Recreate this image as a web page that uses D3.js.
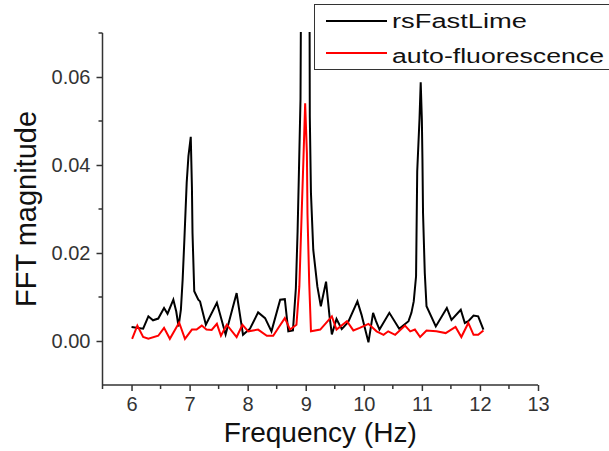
<!DOCTYPE html>
<html>
<head>
<meta charset="utf-8">
<script src="https://cdn.jsdelivr.net/npm/d3@7"></script>
<style>
  body { margin: 0; background: #fff; }
  text { font-family: Arial, "Liberation Sans", sans-serif; }
</style>
</head>
<body>
<div id="fft-chart"></div>
<script>
// DATA
const blackFreq = [6.00, 6.20, 6.29, 6.37, 6.46, 6.56, 6.62, 6.72, 6.77, 6.81, 6.85, 6.88, 6.91, 6.95, 6.98, 7.02, 7.04, 7.05, 7.08, 7.15, 7.18, 7.28, 7.47, 7.62, 7.81, 7.92, 8.04, 8.18, 8.30, 8.41, 8.56, 8.64, 8.70, 8.78, 8.83, 8.86, 8.88, 8.91, 8.93, 8.99, 9.06, 9.07, 9.09, 9.13, 9.20, 9.26, 9.35, 9.41, 9.45, 9.53, 9.62, 9.73, 9.89, 9.96, 10.08, 10.16, 10.21, 10.27, 10.44, 10.61, 10.77, 10.82, 10.86, 10.90, 10.91, 10.92, 10.96, 10.98, 11.00, 11.01, 11.02, 11.05, 11.08, 11.24, 11.43, 11.51, 11.67, 11.74, 11.80, 11.89, 11.97, 12.06];
const blackMag = [0.0032, 0.0028, 0.0056, 0.0047, 0.0051, 0.0075, 0.0062, 0.0094, 0.0067, 0.0033, 0.0071, 0.0139, 0.0230, 0.0360, 0.0420, 0.0464, 0.0350, 0.0246, 0.0113, 0.0094, 0.0090, 0.0037, 0.0087, 0.0015, 0.0109, 0.0014, 0.0028, 0.0065, 0.0052, 0.0022, 0.0094, 0.0095, 0.0022, 0.0024, 0.0120, 0.0250, 0.0367, 0.0550, 0.1100, 0.1500, 0.1100, 0.0510, 0.0336, 0.0207, 0.0124, 0.0079, 0.0135, 0.0056, 0.0015, 0.0050, 0.0027, 0.0043, 0.0090, 0.0060, -0.0003, 0.0064, 0.0045, 0.0026, 0.0064, 0.0028, 0.0045, 0.0064, 0.0090, 0.0147, 0.0268, 0.0386, 0.0507, 0.0588, 0.0503, 0.0412, 0.0291, 0.0155, 0.0079, 0.0033, 0.0075, 0.0048, 0.0071, 0.0041, 0.0045, 0.0058, 0.0056, 0.0026];

const redFreq = [6.01, 6.10, 6.20, 6.29, 6.46, 6.56, 6.66, 6.82, 6.92, 7.04, 7.12, 7.21, 7.29, 7.38, 7.47, 7.54, 7.64, 7.81, 7.91, 8.01, 8.18, 8.33, 8.44, 8.53, 8.64, 8.73, 8.84, 8.89, 8.93, 8.96, 8.99, 9.02, 9.03, 9.06, 9.09, 9.25, 9.45, 9.53, 9.71, 9.82, 9.93, 10.08, 10.22, 10.34, 10.42, 10.54, 10.71, 10.80, 10.88, 10.97, 11.08, 11.25, 11.41, 11.58, 11.68, 11.80, 11.89, 11.97, 12.06];
const redMag = [0.0005, 0.0035, 0.0009, 0.0005, 0.0012, 0.0030, 0.0005, 0.0042, 0.0005, 0.0026, 0.0026, 0.0035, 0.0026, 0.0025, 0.0039, 0.0012, 0.0037, 0.0009, 0.0037, 0.0022, 0.0026, 0.0012, 0.0012, 0.0030, 0.0052, 0.0026, 0.0037, 0.0124, 0.0290, 0.0412, 0.0540, 0.0427, 0.0290, 0.0132, 0.0022, 0.0026, 0.0056, 0.0026, 0.0045, 0.0024, 0.0030, 0.0039, 0.0022, 0.0014, 0.0022, 0.0014, 0.0035, 0.0022, 0.0026, 0.0009, 0.0024, 0.0022, 0.0018, 0.0032, 0.0009, 0.0041, 0.0014, 0.0014, 0.0024];

const seriesNames = ["rsFastLime", "auto-fluorescence"];
const seriesColors = ["#000000", "#ff0000"];

const xMajorTicks = [6, 7, 8, 9, 10, 11, 12, 13];
const xMinorTicks = [5.5, 6.5, 7.5, 8.5, 9.5, 10.5, 11.5, 12.5];
const yMajorTicks = [0.0, 0.02, 0.04, 0.06];
const yMinorTicks = [0.01, 0.03, 0.05, 0.07];

const WIDTH = 609;
const HEIGHT = 451;
const MARGIN = { TOP: 33, RIGHT: 71, BOTTOM: 66, LEFT: 102.5 };
const INNER_W = WIDTH - MARGIN.LEFT - MARGIN.RIGHT;
const INNER_H = HEIGHT - MARGIN.TOP - MARGIN.BOTTOM;

const svg = d3
  .select("#fft-chart")
  .append("svg")
  .attr("width", WIDTH)
  .attr("height", HEIGHT);

const g = svg
  .append("g")
  .attr("transform", `translate(${MARGIN.LEFT}, ${MARGIN.TOP})`);

const x = d3.scaleLinear().domain([5.5, 13]).range([0, INNER_W]);
const y = d3.scaleLinear().domain([-0.01, 0.07]).range([INNER_H, 0]);

// CLIP (the 9 Hz peak runs off the top)
svg
  .append("defs")
  .append("clipPath")
  .attr("id", "plot-clip")
  .append("rect")
  .attr("x", 0)
  .attr("y", -1)
  .attr("width", INNER_W)
  .attr("height", INNER_H + 1);

// LINES
const line = d3
  .line()
  .x((d) => x(d[0]))
  .y((d) => y(d[1]));

const series = [
  d3.zip(blackFreq, blackMag),
  d3.zip(redFreq, redMag),
];

g.append("g")
  .attr("clip-path", "url(#plot-clip)")
  .selectAll("path")
  .data(series)
  .enter()
  .append("path")
  .attr("d", line)
  .style("fill", "none")
  .style("stroke", (d, i) => seriesColors[i])
  .style("stroke-width", "2px")
  .style("stroke-linejoin", "miter");

// AXES
const tickColor = "#333";

const xAxis = g
  .append("g")
  .attr("transform", `translate(0, ${INNER_H})`)
  .call(d3.axisBottom(x).tickValues(xMajorTicks).tickSize(6).tickPadding(6).tickFormat(d3.format("d")));
xAxis
  .append("g")
  .selectAll("line")
  .data(xMinorTicks)
  .enter()
  .append("line")
  .attr("x1", (d) => x(d))
  .attr("x2", (d) => x(d))
  .attr("y2", 4);

const yAxis = g
  .append("g")
  .call(d3.axisLeft(y).tickValues(yMajorTicks).tickSize(6).tickPadding(6).tickFormat(d3.format(".2f")));
yAxis
  .append("g")
  .selectAll("line")
  .data(yMinorTicks)
  .enter()
  .append("line")
  .attr("y1", (d) => y(d))
  .attr("y2", (d) => y(d))
  .attr("x2", -4);

[xAxis, yAxis].forEach((a) => {
  a.select(".domain").attr("d", null);
  a.selectAll("line").style("stroke", tickColor).style("stroke-width", "1.5px");
  a.selectAll("text")
    .style("font-size", "20px")
    .style("fill", tickColor)
    .style("font-family", 'Arial, "Liberation Sans", sans-serif');
});

// axis lines without end caps
g.append("line")
  .attr("x1", 0).attr("x2", 0)
  .attr("y1", y(0.07)).attr("y2", y(-0.01))
  .style("stroke", tickColor).style("stroke-width", "1.5px");
g.append("line")
  .attr("x1", x(5.5)).attr("x2", x(13))
  .attr("y1", y(-0.01)).attr("y2", y(-0.01))
  .style("stroke", tickColor).style("stroke-width", "1.5px");

// AXIS TITLES
svg
  .append("text")
  .attr("x", MARGIN.LEFT + INNER_W / 2)
  .attr("y", 442)
  .style("text-anchor", "middle")
  .style("font-size", "28px")
  .style("fill", "#111")
  .text("Frequency (Hz)");

svg
  .append("text")
  .attr("transform", `translate(36, ${MARGIN.TOP + INNER_H / 2}) rotate(-90)`)
  .style("text-anchor", "middle")
  .style("font-size", "29px")
  .style("fill", "#111")
  .text("FFT magnitude");

// LEGEND
const legend = svg.append("g").attr("class", "legend");

legend
  .append("rect")
  .attr("x", 314.5)
  .attr("y", 4.5)
  .attr("width", 310)
  .attr("height", 65)
  .style("fill", "#fff")
  .style("stroke", "#333")
  .style("stroke-width", "1px");

const legendRows = [21, 53];
const legendBase = [28, 63];
const legendLen = [135, 212];

legend
  .selectAll("line.key")
  .data(seriesNames)
  .enter()
  .append("line")
  .attr("class", "key")
  .attr("x1", 326)
  .attr("x2", 387)
  .attr("y1", (d, i) => legendRows[i])
  .attr("y2", (d, i) => legendRows[i])
  .style("stroke", (d, i) => seriesColors[i])
  .style("stroke-width", "2px");

legend
  .selectAll("text")
  .data(seriesNames)
  .enter()
  .append("text")
  .attr("x", 392)
  .attr("y", (d, i) => legendBase[i])
  .attr("textLength", (d, i) => legendLen[i])
  .attr("lengthAdjust", "spacingAndGlyphs")
  .style("font-size", "20px")
  .style("fill", "#111")
  .text((d) => d);
</script>
</body>
</html>
